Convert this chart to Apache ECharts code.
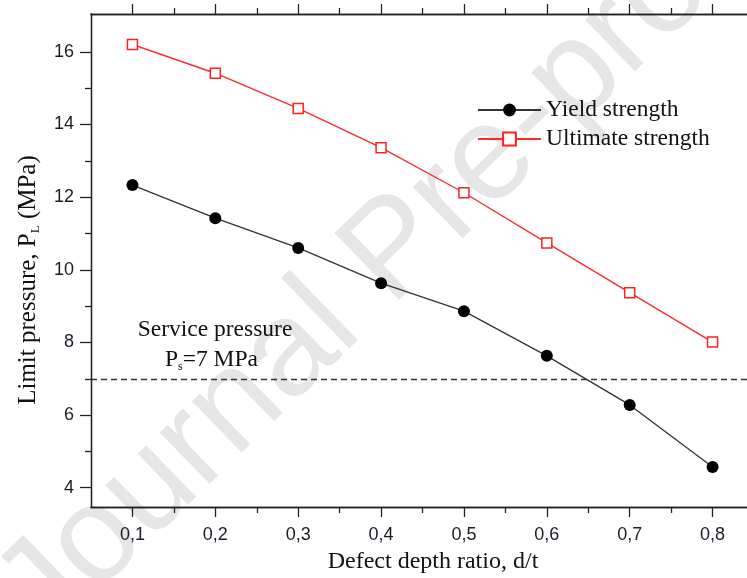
<!DOCTYPE html>
<html><head><meta charset="utf-8">
<script src="https://cdn.jsdelivr.net/npm/echarts@6/dist/echarts.min.js"></script>
<style>html,body{margin:0;padding:0;background:#fff}#c{width:747px;height:578px}</style>
</head><body><div id="c"></div>
<script>
var ratios = [0.1, 0.2, 0.3, 0.4, 0.5, 0.6, 0.7, 0.8];
var yieldStrength = [12.33, 11.42, 10.60, 9.63, 8.86, 7.63, 6.28, 4.57];
var ultimateStrength = [16.20, 15.41, 14.44, 13.36, 12.12, 10.74, 9.37, 8.01];
var serviceP = 7;
var xMajor = [0.1, 0.2, 0.3, 0.4, 0.5, 0.6, 0.7, 0.8];
var xMinor = [0.15, 0.25, 0.35, 0.45, 0.55, 0.65, 0.75];
var yMajor = [4, 6, 8, 10, 12, 14, 16];
var yMinor = [5, 7, 9, 11, 13, 15];

var SERIF = '"Liberation Serif","Times New Roman",serif';
var SANS = '"Liberation Sans",Arial,sans-serif';
var AX = '#222';
var LBL = '#1c1c28';

function xAx(pos, vals, len, labels) {
  return {
    type: 'value', position: pos, min: 0.05, max: 0.85,
    axisLine: {show: true, onZero: false, lineStyle: {color: AX, width: 1.3}},
    axisTick: {show: true, inside: false, length: len, customValues: vals, lineStyle: {color: AX, width: 1.3}},
    axisLabel: labels ? {show: true, customValues: vals, margin: 19, fontFamily: SANS, fontSize: 18, color: LBL,
      formatter: function (v) { return v.toFixed(1).replace('.', ','); }} : {show: false},
    splitLine: {show: false}
  };
}
function yAx(vals, len, labels) {
  return {
    type: 'value', position: 'left', min: 3.47, max: 17.04,
    axisLine: {show: true, onZero: false, lineStyle: {color: AX, width: 1.3}},
    axisTick: {show: true, inside: false, length: len, customValues: vals, lineStyle: {color: AX, width: 1.3}},
    axisLabel: labels ? {show: true, customValues: vals, margin: 17, fontFamily: SANS, fontSize: 18, color: LBL} : {show: false},
    splitLine: {show: false}
  };
}

var chart = echarts.init(document.getElementById('c'), null, {renderer: 'canvas'});
chart.setOption({
  animation: false,
  backgroundColor: '#fff',
  grid: {left: 91, top: 14, width: 663, height: 493, containLabel: false, outerBoundsMode: 'none'},
  xAxis: [xAx('bottom', xMajor, 10, true), xAx('top', xMajor, 10, false), xAx('bottom', xMinor, 6, false), xAx('top', xMinor, 6, false)],
  yAxis: [yAx(yMajor, 11, true), yAx(yMinor, 6, false)],
  legend: {
    orient: 'vertical', left: 472, top: 93, itemWidth: 63, itemHeight: 16, itemGap: 5,
    textStyle: {fontFamily: SERIF, fontSize: 23.5, color: '#111'},
    data: ['Yield strength', 'Ultimate strength']
  },
  graphic: [
    {type: 'text', z: -10, x: 395, y: 252, rotation: Math.PI / 4 * 0.98,
      style: {text: 'Journal Pre-proof', fontFamily: SANS, fontSize: 135, fill: '#e6e6e6', align: 'center', verticalAlign: 'middle'}},
    {type: 'text', x: 215, y: 330, style: {text: 'Service pressure', fontFamily: SERIF, fontSize: 23.5, fill: '#111', align: 'center', verticalAlign: 'middle'}},
    {type: 'text', x: 165, y: 360, style: {
      text: '{a|P}{s|s}{a|=7 MPa}', verticalAlign: 'middle', align: 'left',
      rich: {a: {fontFamily: SERIF, fontSize: 23.5, fill: '#111', lineHeight: 26},
             s: {fontFamily: SERIF, fontSize: 12, fill: '#111', lineHeight: 6, verticalAlign: 'bottom'}}}},
    {type: 'text', x: 28, y: 280, rotation: Math.PI / 2, style: {
      text: '{a|Limit pressure, P}{s|L}{a| (MPa)}', align: 'center', verticalAlign: 'middle',
      rich: {a: {fontFamily: SERIF, fontSize: 25, fill: '#111', lineHeight: 28},
             s: {fontFamily: SERIF, fontSize: 13, fill: '#111', lineHeight: 6, verticalAlign: 'bottom'}}}},
    {type: 'text', x: 433, y: 562, style: {text: 'Defect depth ratio, d/t', fontFamily: SERIF, fontSize: 24, fill: '#111', align: 'center', verticalAlign: 'middle'}}
  ],
  series: [
    {name: 'Yield strength', type: 'line', xAxisIndex: 0, yAxisIndex: 0,
      data: ratios.map(function (x, i) { return [x, yieldStrength[i]]; }),
      symbol: 'circle', symbolSize: 12, itemStyle: {color: '#000'},
      lineStyle: {color: '#333', width: 1.3},
      markLine: {silent: true, symbol: 'none', label: {show: false},
        lineStyle: {color: '#333', type: [6, 4], width: 1.3}, data: [{yAxis: serviceP}]}},
    {name: 'Ultimate strength', type: 'line', xAxisIndex: 0, yAxisIndex: 0,
      data: ratios.map(function (x, i) { return [x, ultimateStrength[i]]; }),
      symbol: 'rect', symbolSize: 10, itemStyle: {color: '#fff', borderColor: '#ff2020', borderWidth: 1.5},
      lineStyle: {color: '#ff2a2a', width: 1.4}}
  ]
});
</script></body></html>
